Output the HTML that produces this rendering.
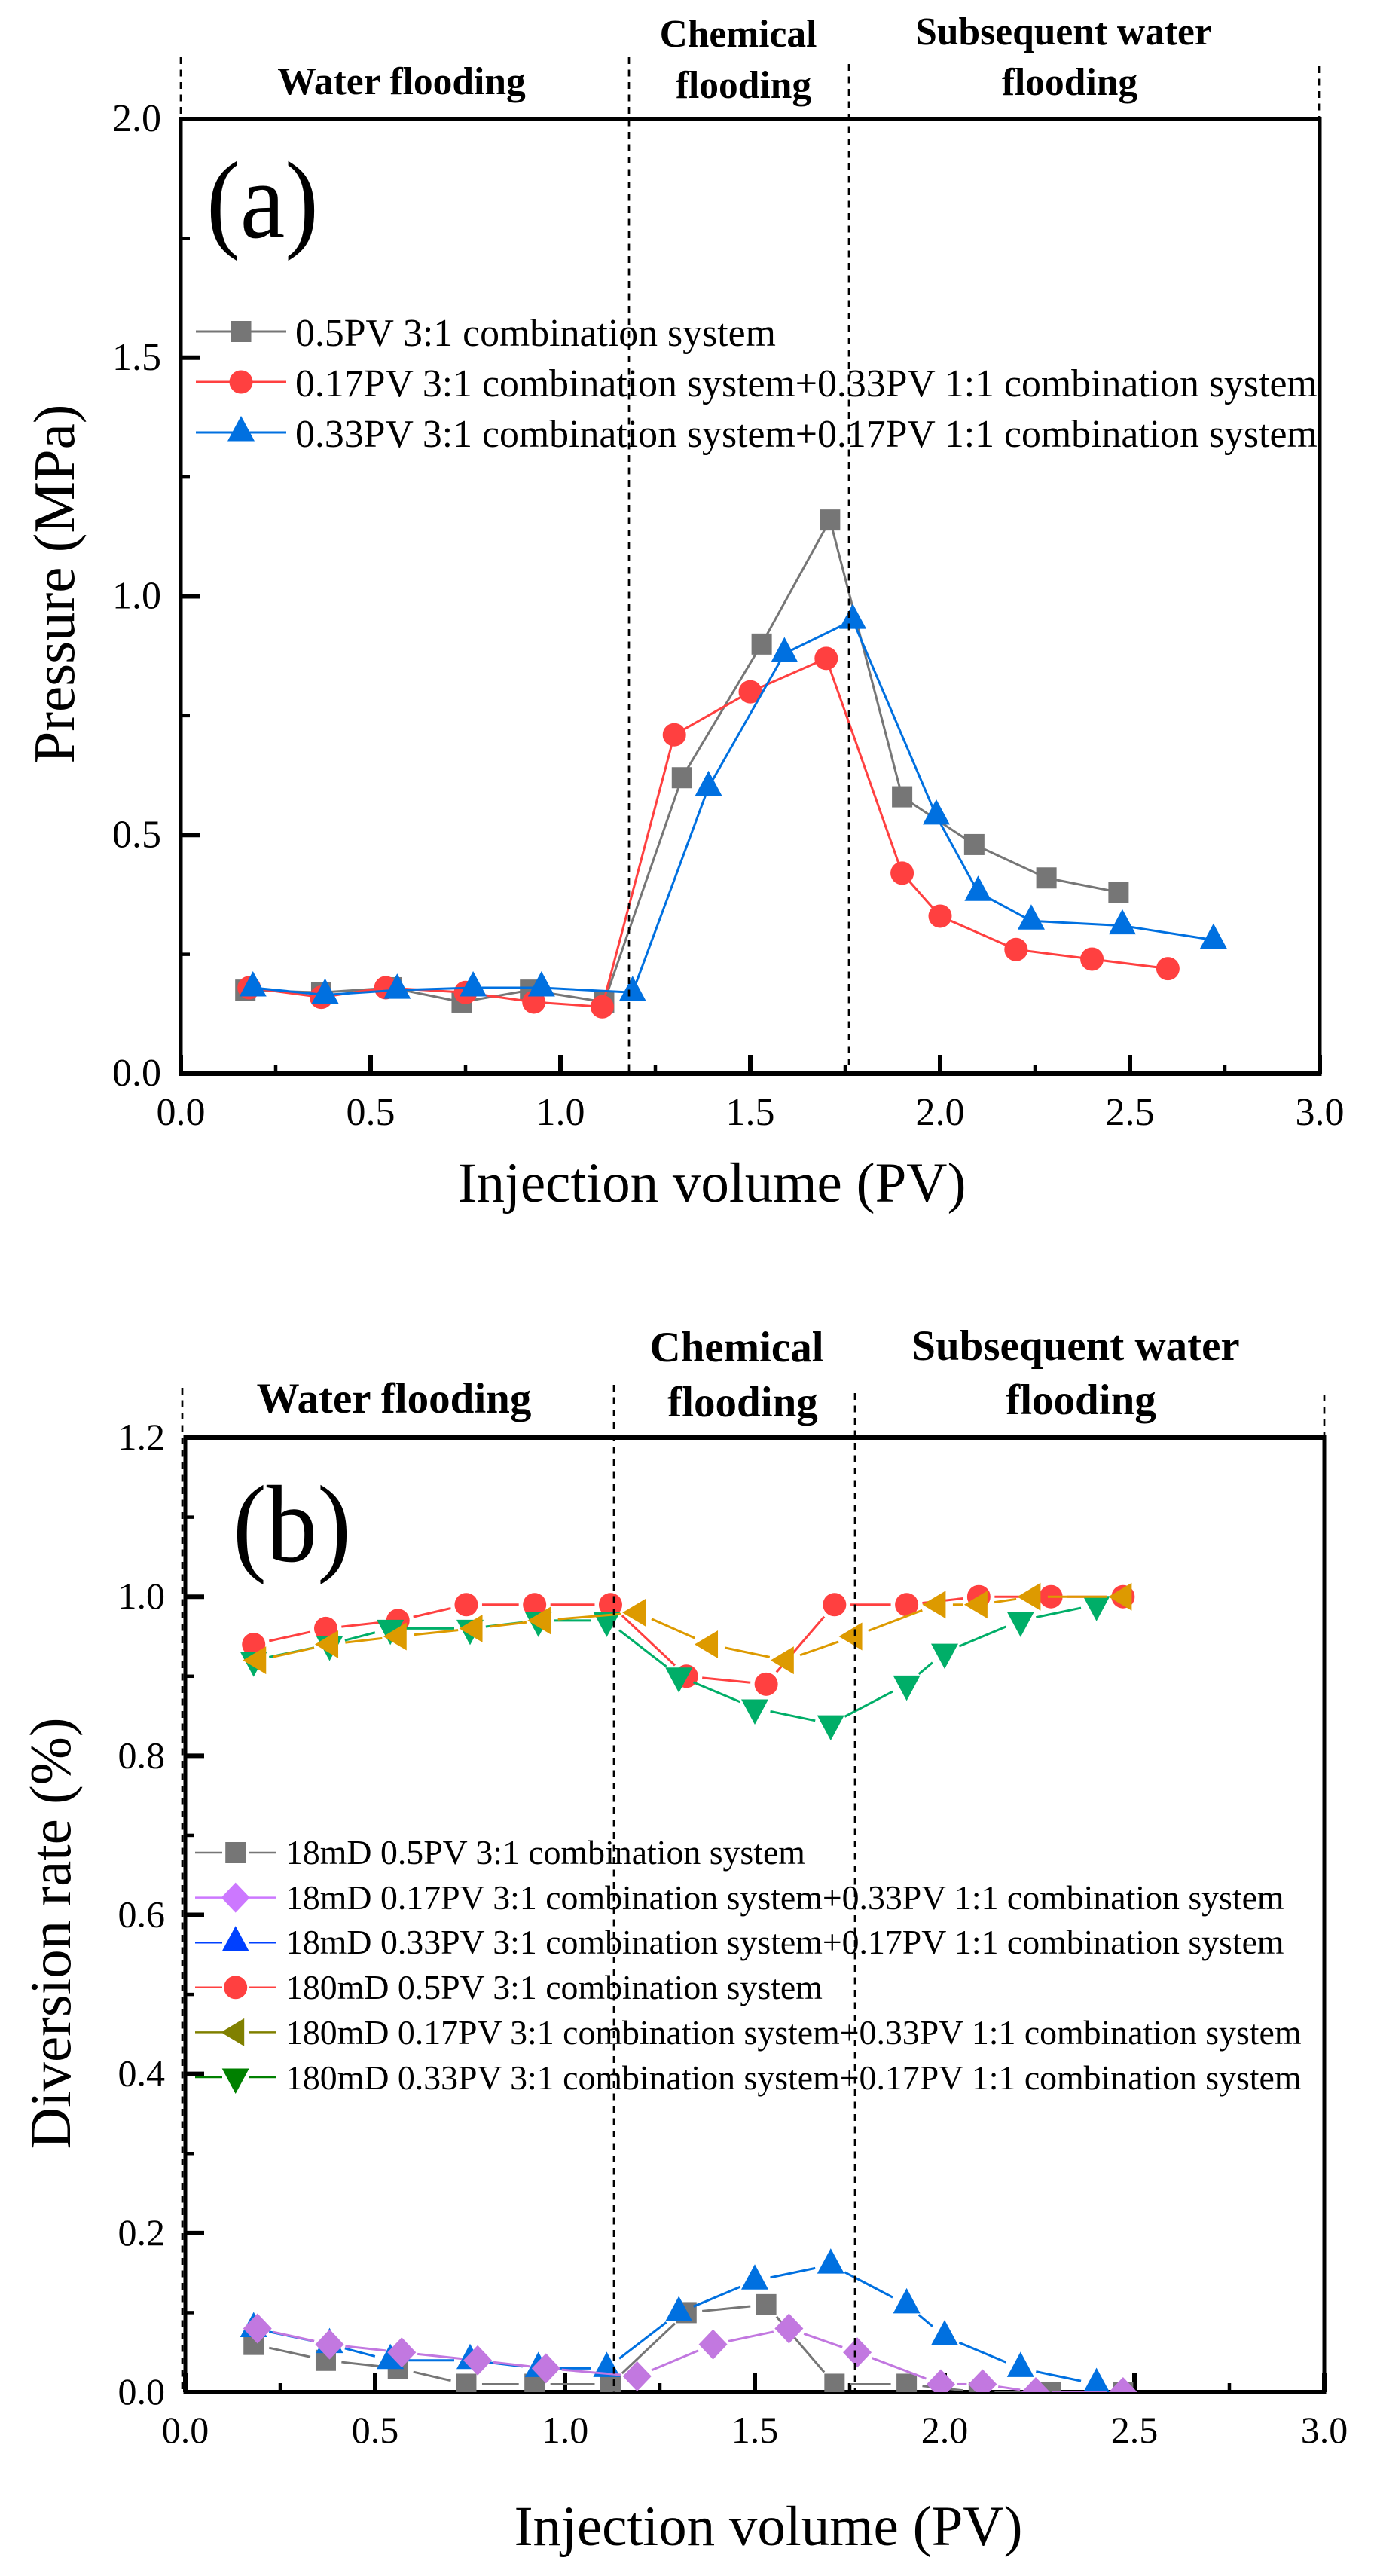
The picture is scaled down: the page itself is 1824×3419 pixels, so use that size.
<!DOCTYPE html>
<html lang="en">
<head>
<meta charset="utf-8">
<title>Pressure and diversion rate versus injection volume</title>
<style>
html,body{margin:0;padding:0;background:#fff;}
svg{display:block;}
text{font-family:"Liberation Serif","Times New Roman",serif;fill:#000;}
.tick{font-size:52px;}
.tickb{font-size:50px;}
.axis-title{font-size:75px;}
.y-title{font-size:77px;}
.stage{font-weight:bold;font-size:51.5px;text-anchor:middle;}
.stageb{font-weight:bold;font-size:57px;text-anchor:middle;}
.lega{font-size:51.8px;}
.legb{font-size:45.8px;}
</style>
</head>
<body>
<svg id="fig" xmlns="http://www.w3.org/2000/svg" width="1824" height="3419" viewBox="0 0 1824 3419">
  <rect x="0" y="0" width="1824" height="3419" fill="#fff"/>
  <defs>
    <clipPath id="clipB"><rect x="200" y="1800" width="1600" height="1375"/></clipPath>
  </defs>

  <g id="panelA">
    <g id="axesA"></g>
    <g id="seriesA"></g>
    <text x="274" y="315" font-size="146" textLength="149" lengthAdjust="spacingAndGlyphs">(a)</text>
    <text class="stage" x="533" y="125">Water flooding</text>
    <text class="stage" x="980" y="62">Chemical</text>
    <text class="stage" x="987" y="130">flooding</text>
    <text class="stage" x="1412" y="59">Subsequent water</text>
    <text class="stage" x="1420" y="126">flooding</text>
    <text class="axis-title" x="945" y="1595" text-anchor="middle">Injection volume (PV)</text>
    <text class="y-title" transform="translate(98,775) rotate(-90)" text-anchor="middle">Pressure (MPa)</text>
    <g id="legendA"></g>
    <text class="lega" x="392" y="459">0.5PV 3:1 combination system</text>
    <text class="lega" x="392" y="526">0.17PV 3:1 combination system+0.33PV 1:1 combination system</text>
    <text class="lega" x="392" y="593">0.33PV 3:1 combination system+0.17PV 1:1 combination system</text>
  </g>

  <g id="panelB">
    <g id="axesB"></g>
    <g id="seriesB" clip-path="url(#clipB)"></g>
    <text x="309" y="2072" font-size="146" textLength="157" lengthAdjust="spacingAndGlyphs">(b)</text>
    <text class="stageb" x="523" y="1875">Water flooding</text>
    <text class="stageb" x="978" y="1807">Chemical</text>
    <text class="stageb" x="986" y="1880">flooding</text>
    <text class="stageb" x="1428" y="1805">Subsequent water</text>
    <text class="stageb" x="1435" y="1877">flooding</text>
    <text class="axis-title" x="1020" y="3378" text-anchor="middle">Injection volume (PV)</text>
    <text class="y-title" transform="translate(93,2566) rotate(-90)" text-anchor="middle">Diversion rate (%)</text>
    <g id="legendB"></g>
    <text class="legb" x="379" y="2474">18mD 0.5PV 3:1 combination system</text>
    <text class="legb" x="379" y="2534">18mD 0.17PV 3:1 combination system+0.33PV 1:1 combination system</text>
    <text class="legb" x="379" y="2593">18mD 0.33PV 3:1 combination system+0.17PV 1:1 combination system</text>
    <text class="legb" x="379" y="2653">180mD 0.5PV 3:1 combination system</text>
    <text class="legb" x="379" y="2713">180mD 0.17PV 3:1 combination system+0.33PV 1:1 combination system</text>
    <text class="legb" x="379" y="2773">180mD 0.33PV 3:1 combination system+0.17PV 1:1 combination system</text>
  </g>
  <g id="dashes"></g>
</svg>
<script>
// ---- Shared tick labels ----
const xTickLabels = ['0.0','0.5','1.0','1.5','2.0','2.5','3.0'];
const yTicksA = ['0.0','0.5','1.0','1.5','2.0'];
const yTicksB = ['0.0','0.2','0.4','0.6','0.8','1.0','1.2'];

// ---- Panel (a) data ----
const a1x = [0.17,0.37,0.555,0.74,0.92,1.115,1.32,1.53,1.71,1.90,2.09,2.28,2.47];
const a1y = [0.175,0.17,0.18,0.15,0.175,0.15,0.62,0.90,1.16,0.58,0.48,0.41,0.38];
const a2x = [0.18,0.37,0.54,0.75,0.93,1.11,1.30,1.50,1.70,1.90,2.00,2.20,2.40,2.60];
const a2y = [0.18,0.16,0.18,0.17,0.15,0.14,0.71,0.80,0.87,0.42,0.33,0.26,0.24,0.22];
const a3x = [0.19,0.38,0.57,0.77,0.95,1.19,1.39,1.59,1.77,1.99,2.10,2.24,2.48,2.72];
const a3y = [0.18,0.165,0.175,0.18,0.18,0.17,0.60,0.88,0.95,0.54,0.38,0.32,0.31,0.28];

// ---- Panel (b) data ----
const b1x = [0.18,0.37,0.56,0.74,0.92,1.12,1.32,1.53,1.71,1.90,2.09,2.28,2.47];
const b1y = [0.06,0.04,0.03,0.01,0.01,0.01,0.10,0.11,0.01,0.01,0.00,0.00,0.00];
const b2x = [0.19,0.38,0.57,0.77,0.95,1.19,1.39,1.59,1.77,1.99,2.10,2.24,2.47];
const b2y = [0.08,0.06,0.05,0.04,0.03,0.02,0.06,0.08,0.05,0.01,0.01,0.00,0.00];
const b3x = [0.18,0.38,0.54,0.75,0.93,1.11,1.30,1.50,1.70,1.90,2.00,2.20,2.40];
const b3y = [0.08,0.06,0.04,0.04,0.03,0.03,0.10,0.14,0.16,0.11,0.07,0.03,0.01];
const b4x = [0.18,0.37,0.56,0.74,0.92,1.12,1.32,1.53,1.71,1.90,2.09,2.28,2.47];
const b4y = [0.94,0.96,0.97,0.99,0.99,0.99,0.90,0.89,0.99,0.99,1.00,1.00,1.00];
const b5x = [0.19,0.38,0.56,0.76,0.94,1.19,1.38,1.58,1.76,1.98,2.09,2.23,2.47];
const b5y = [0.92,0.94,0.95,0.96,0.97,0.98,0.94,0.92,0.95,0.99,0.99,1.00,1.00];
const b6x = [0.18,0.38,0.54,0.75,0.93,1.11,1.30,1.50,1.70,1.90,2.00,2.20,2.40];
const b6y = [0.92,0.94,0.96,0.96,0.97,0.97,0.90,0.86,0.84,0.89,0.93,0.97,0.99];

// ---- Axis functions ----
const xA = v => 240 + 504 * v;
const yA = v => 1425 - 633.5 * v;
const xB = v => 246 + 504 * v;
const yB = v => 3175 - 1055.8 * v;

const NS = 'http://www.w3.org/2000/svg';
function make(parent, tag, name, attrs) {
  const el = document.createElementNS(NS, tag);
  for (const k in attrs) el.setAttribute(k, attrs[k]);
  
  
  parent.appendChild(el);
  return el;
}
function line(parent, name, x1, y1, x2, y2, color, w, dash) {
  const attrs = {x1: x1, y1: y1, x2: x2, y2: y2, stroke: color, 'stroke-width': w};
  if (dash) attrs['stroke-dasharray'] = dash;
  return make(parent, 'line', name, attrs);
}
function marker(parent, name, kind, x, y, color) {
  if (kind === 'square') return make(parent, 'rect', name, {x: x - 13.5, y: y - 14, width: 27, height: 28, fill: color});
  if (kind === 'circle') return make(parent, 'circle', name, {cx: x, cy: y, r: 15.5, fill: color});
  let pts;
  if (kind === 'up') pts = [[x, y - 22], [x + 18, y + 11.5], [x - 18, y + 11.5]];
  if (kind === 'down') pts = [[x, y + 22], [x + 18, y - 11.5], [x - 18, y - 11.5]];
  if (kind === 'left') pts = [[x - 19.5, y], [x + 11.5, y - 18.5], [x + 11.5, y + 18.5]];
  if (kind === 'diamond') pts = [[x, y - 20], [x + 19, y], [x, y + 20], [x - 19, y]];
  return make(parent, 'polygon', name, {points: pts.map(p => p.join(',')).join(' '), fill: color});
}
function plotSeries(parent, name, xs, ys, fx, fy, kind, color, gap) {
  const g = make(parent, 'g', name, {});
  for (let i = 0; i + 1 < xs.length; i++) {
    let x1 = fx(xs[i]), y1 = fy(ys[i]), x2 = fx(xs[i + 1]), y2 = fy(ys[i + 1]);
    const d = Math.hypot(x2 - x1, y2 - y1);
    if (gap > 0) {
      if (d <= 2 * gap) continue;
      const ux = (x2 - x1) / d, uy = (y2 - y1) / d;
      x1 += ux * gap; y1 += uy * gap; x2 -= ux * gap; y2 -= uy * gap;
    }
    line(g, name + '-line', x1, y1, x2, y2, color, 3);
  }
  for (let i = 0; i < xs.length; i++) {
    marker(g, name + '-point', kind, fx(xs[i]), fy(ys[i]), color);
  }
}
function axes(parent, prefix, fx, fy, yLabels, yStep, xLabelY, yLabelX, fontClass, top, bottom, left, right) {
  // frame
  line(parent, prefix + '-top-border', left - 2.5, top, right + 2.5, top, '#000', 6);
  line(parent, prefix + '-bottom-axis', left - 2.5, bottom, right + 2.5, bottom, '#000', 6);
  line(parent, prefix + '-left-axis', left, top, left, bottom, '#000', 5);
  line(parent, prefix + '-right-border', right, top, right, bottom, '#000', 5);
  // x ticks and minors
  xTickLabels.forEach((lab, i) => {
    const v = parseFloat(lab);
    line(parent, prefix + '-x-tick', fx(v), bottom, fx(v), bottom - 25, '#000', 6);
    if (i < xTickLabels.length - 1) {
      const m = v + 0.25;
      line(parent, prefix + '-x-minor-tick', fx(m), bottom, fx(m), bottom - 12, '#000', 4.5);
    }
    const t = make(parent, 'text', prefix + '-x-tick-label', {x: fx(v), y: xLabelY, 'text-anchor': 'middle', class: fontClass});
    t.textContent = lab;
  });
  // y ticks and minors
  yLabels.forEach((lab, i) => {
    const v = parseFloat(lab);
    line(parent, prefix + '-y-tick', left, fy(v), left + 25, fy(v), '#000', 6);
    if (i < yLabels.length - 1) {
      const m = v + yStep / 2;
      line(parent, prefix + '-y-minor-tick', left, fy(m), left + 12, fy(m), '#000', 4.5);
    }
    const t = make(parent, 'text', prefix + '-y-tick-label', {x: yLabelX, y: fy(v) + 16, 'text-anchor': 'end', class: fontClass});
    t.textContent = lab;
  });
}

// ---- Build panel (a) ----
const axesA = document.getElementById('axesA');
axes(axesA, 'a', xA, yA, yTicksA, 0.5, 1493, 214, 'tick', yA(2), yA(0), xA(0), xA(3));
const seriesA = document.getElementById('seriesA');
plotSeries(seriesA, 'series-a-05pv', a1x, a1y, xA, yA, 'square', '#767676', 0);
plotSeries(seriesA, 'series-a-017pv', a2x, a2y, xA, yA, 'circle', '#ff4040', 0);
plotSeries(seriesA, 'series-a-033pv', a3x, a3y, xA, yA, 'up', '#0070e0', 0);

const legendA = document.getElementById('legendA');
const legAKinds = ['square', 'circle', 'up'];
const legAColors = ['#767676', '#ff4040', '#0070e0'];
legAKinds.forEach((k, i) => {
  const y = 440 + i * 67;
  line(legendA, 'legend-a-line', 260, y, 380, y, legAColors[i], 3);
  marker(legendA, 'legend-a-marker', k, 320, y, legAColors[i]);
});

// ---- Build panel (b) ----
const axesB = document.getElementById('axesB');
axes(axesB, 'b', xB, yB, yTicksB, 0.2, 3242, 219, 'tickb', yB(1.2), yB(0), xB(0), xB(3));
const seriesB = document.getElementById('seriesB');
plotSeries(seriesB, 'series-b-18md-05pv', b1x, b1y, xB, yB, 'square', '#767676', 21);
plotSeries(seriesB, 'series-b-18md-033pv', b3x, b3y, xB, yB, 'up', '#0070e0', 21);
plotSeries(seriesB, 'series-b-18md-017pv', b2x, b2y, xB, yB, 'diamond', '#c278e0', 21);
plotSeries(seriesB, 'series-b-180md-05pv', b4x, b4y, xB, yB, 'circle', '#ff4040', 21);
plotSeries(seriesB, 'series-b-180md-033pv', b6x, b6y, xB, yB, 'down', '#00ae68', 21);
plotSeries(seriesB, 'series-b-180md-017pv', b5x, b5y, xB, yB, 'left', '#dd9a00', 21);

const legendB = document.getElementById('legendB');
const legBKinds = ['square', 'diamond', 'up', 'circle', 'left', 'down'];
const legBColors = ['#767676', '#cc78ff', '#0040ff', '#ff4040', '#808000', '#008000'];
legBKinds.forEach((k, i) => {
  const y = 2459 + i * 59.6;
  line(legendB, 'legend-b-line', 259, y, 295, y, legBColors[i], 2.5);
  line(legendB, 'legend-b-line', 331, y, 366, y, legBColors[i], 2.5);
  marker(legendB, 'legend-b-marker', k, 312.7, y, legBColors[i]);
});

// ---- Stage divider dashed lines ----
const dashes = document.getElementById('dashes');
const da = '9 7.5';
line(dashes, 'divider-a-left', 240, 76, 240, 158, '#000', 2.7, da);
line(dashes, 'divider-a-1', 835, 76, 835, 1425, '#000', 2.7, da);
line(dashes, 'divider-a-2', 1127, 85, 1127, 1425, '#000', 2.7, da);
line(dashes, 'divider-a-right', 1751, 88, 1751, 158, '#000', 2.7, da);
line(dashes, 'divider-b-left', 242, 1842, 242, 3175, '#000', 2.7, da);
line(dashes, 'divider-b-1', 815, 1838, 815, 3175, '#000', 2.7, da);
line(dashes, 'divider-b-2', 1135, 1849, 1135, 3175, '#000', 2.7, da);
line(dashes, 'divider-b-right', 1758, 1851, 1758, 1908, '#000', 2.7, da);
</script>
</body>
</html>
